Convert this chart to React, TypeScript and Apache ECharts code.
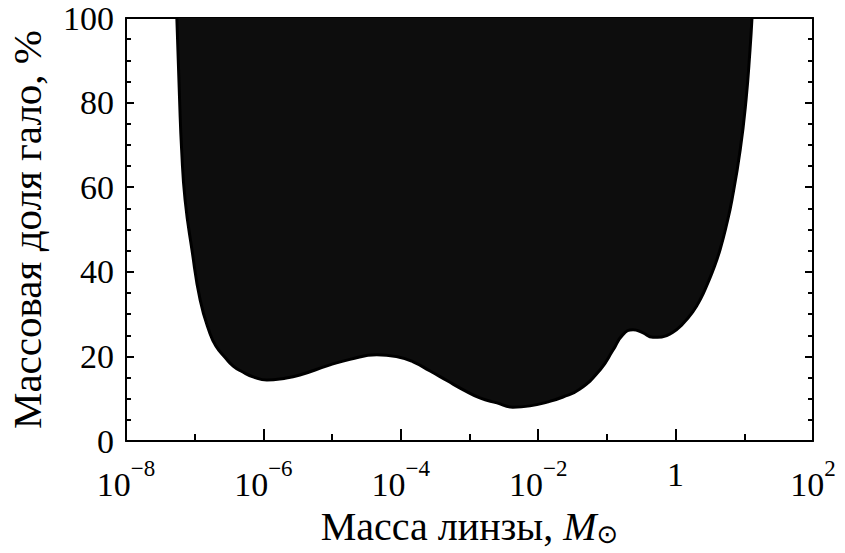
import React, { useEffect, useRef } from 'react';
import * as echarts from 'echarts';

// log10 of lens mass (in solar masses) along the boundary of the excluded region
const logMass = [
  -7.26, -7.22, -7.19, -7.14, -7.04, -6.92, -6.78, -6.69, -6.56, -6.44, -6.3, -6.14, -5.95,
  -5.7, -5.47, -5.03, -4.74, -4.35, -4.05, -3.82, -3.58, -3.33, -3.09,
  -2.85, -2.6, -2.37, -2.12, -1.87, -1.64, -1.4, -1.1, -0.91, -0.77,
  -0.62, -0.48, -0.33, -0.2, -0.05, 0.1, 0.25, 0.37, 0.47, 0.56, 0.65, 0.74, 0.82,
  0.94, 1.025, 1.083, 1.112,
];
// halo mass fraction, %
const haloFraction = [
  100, 80.6, 68.8, 57, 45.2, 33.3, 25.5, 22.4, 19.8, 17.7, 16.3, 15.1, 14.4,
  14.8, 15.6, 18.0, 19.3, 20.4, 19.9, 18.7, 16.6, 14.3, 12.1,
  10.2, 9.0, 8.0, 8.3, 9.2, 10.4, 12.2, 16.8, 21.5, 25.1,
  26.3, 25.6, 24.5, 24.6, 25.6, 27.6, 30.5, 33.8, 37.4, 41.0, 45.4, 51.0, 57,
  68.8, 80.6, 92.4, 100,
];
const xLabelExponents = [-8, -6, -4, -2, 0, 2];
const yTickValues = [0, 20, 40, 60, 80, 100];

const FONT = 'Liberation Serif';

export default function App() {
  const ref = useRef<HTMLDivElement>(null);
  useEffect(() => {
    const chart = echarts.init(ref.current as HTMLDivElement, null, { renderer: 'svg' });
    const axisLineStyle = { color: '#000', width: 2 };
    const tickStyle = { color: '#000', width: 2 };
    chart.setOption({
      animation: false,
      backgroundColor: '#fff',
      grid: {
        left: 126, top: 18, width: 687, height: 423, show: false,
        containLabel: false, outerBoundsMode: 'none',
      },
      xAxis: [
        {
          type: 'value',
          min: xLabelExponents[0],
          max: xLabelExponents[xLabelExponents.length - 1],
          interval: 2,
          position: 'bottom',
          axisLine: { show: true, onZero: false, lineStyle: axisLineStyle },
          axisTick: { show: true, inside: true, length: 12, lineStyle: tickStyle },
          minorTick: { show: true, splitNumber: 2, length: 7, lineStyle: tickStyle },
          splitLine: { show: false },
          axisLabel: {
            margin: 16,
            formatter: (v: number) =>
              v === 0 ? '{b|1}' : '{b|10}{s|' + String(v).replace('-', '−') + '}',
            rich: {
              b: { fontFamily: FONT, fontSize: 34, color: '#000' },
              s: { fontFamily: FONT, fontSize: 23, color: '#000', padding: [0, 0, 32, 0] },
            },
          },
          name: '{n|Масса линзы, }{i|M}{o|⊙}',
          nameLocation: 'middle',
          nameGap: 64,
          nameTextStyle: {
            rich: {
              n: { fontFamily: FONT, fontSize: 40, color: '#000' },
              i: { fontFamily: FONT, fontSize: 40, fontStyle: 'italic', color: '#000' },
              o: { fontFamily: 'DejaVu Sans', fontSize: 26, color: '#000', padding: [16, 0, 0, 0] },
            },
          },
        },
        {
          type: 'value',
          min: -8,
          max: 2,
          position: 'top',
          axisLine: { show: true, onZero: false, lineStyle: axisLineStyle },
          axisTick: { show: false },
          axisLabel: { show: false },
          splitLine: { show: false },
        },
      ],
      yAxis: [
        {
          type: 'value',
          min: yTickValues[0],
          max: yTickValues[yTickValues.length - 1],
          interval: 20,
          position: 'left',
          axisLine: { show: true, onZero: false, lineStyle: axisLineStyle },
          axisTick: { show: true, inside: true, length: 8, lineStyle: tickStyle },
          minorTick: { show: true, splitNumber: 4, length: 5, lineStyle: tickStyle },
          splitLine: { show: false },
          axisLabel: { margin: 12, fontFamily: FONT, fontSize: 34, color: '#000' },
          name: 'Массовая доля гало, %',
          nameLocation: 'middle',
          nameGap: 79,
          nameRotate: 90,
          nameTextStyle: { fontFamily: FONT, fontSize: 41, color: '#000' },
        },
        {
          type: 'value',
          min: 0,
          max: 100,
          interval: 20,
          position: 'right',
          axisLine: { show: true, onZero: false, lineStyle: axisLineStyle },
          axisTick: { show: true, inside: true, length: 8, lineStyle: tickStyle },
          minorTick: { show: true, splitNumber: 4, length: 5, lineStyle: tickStyle },
          splitLine: { show: false },
          axisLabel: { show: false },
        },
      ],
      series: [
        {
          type: 'line',
          xAxisIndex: 0,
          yAxisIndex: 0,
          data: logMass.map((x, i) => [x, haloFraction[i]]),
          smooth: 0.5,
          symbol: 'none',
          lineStyle: { color: '#000', width: 3 },
          areaStyle: { color: '#0d0d0d', opacity: 1, origin: 'end' },
          z: 1,
        },
      ],
    });
    return () => chart.dispose();
  }, []);
  return (
    <div
      ref={ref}
      style={{ position: 'fixed', left: 0, top: 0, width: 845, height: 553 }}
    />
  );
}
